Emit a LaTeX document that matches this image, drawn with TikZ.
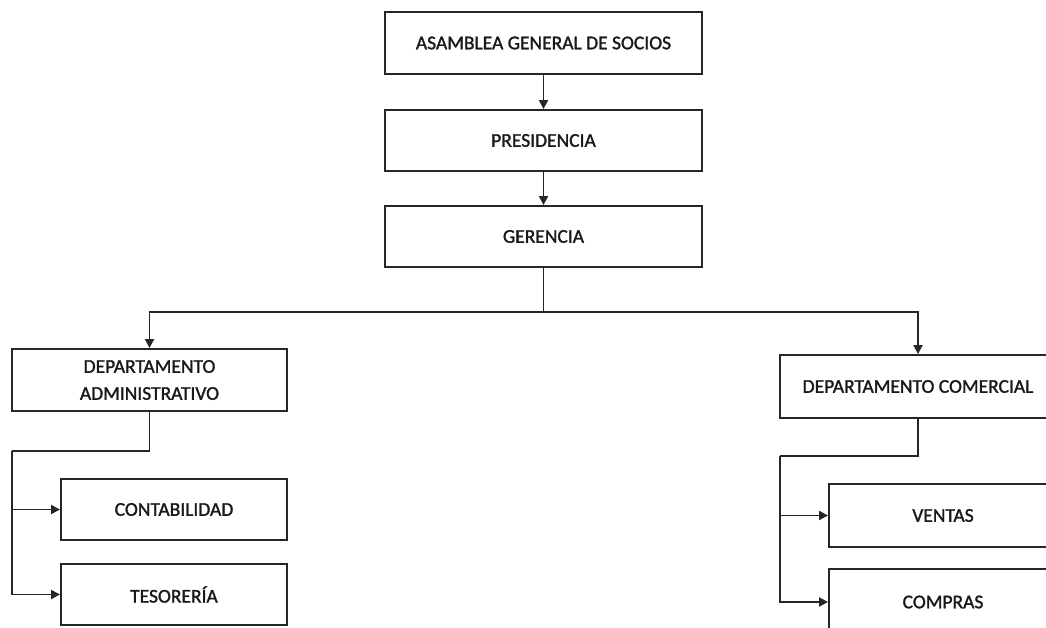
\documentclass[tikz,border=0pt]{standalone}
\usepackage{fontspec}
\setmainfont{Carlito}[FakeBold=1.4]
\usetikzlibrary{arrows.meta}
\begin{document}
\begin{tikzpicture}[x=1pt,y=-1pt,
  orgbox/.style={draw=black!85, line width=1.9pt, fill=white, rectangle, inner sep=0pt,
    align=center, font=\fontsize{19.5}{27}\selectfont, text=black!90},
  link/.style={draw=black!85, line width=1.9pt},
  arr/.style={link, -{Triangle[width=9pt,length=9pt]}}]
\useasboundingbox (0,0) rectangle (1046,628);
\clip (0,0) rectangle (1046,628);
\fill[white] (0,0) rectangle (1046,628);

\node[orgbox, minimum width=317pt, minimum height=62pt] (asamblea) at (543.5,43) {ASAMBLEA GENERAL DE SOCIOS};
\node[orgbox, minimum width=317pt, minimum height=61pt] (presidencia) at (543.5,140.5) {PRESIDENCIA};
\node[orgbox, minimum width=317pt, minimum height=61pt] (gerencia) at (543.5,236.5) {GERENCIA};

\node[orgbox, minimum width=275pt, minimum height=62pt] (admin) at (149.5,380) {DEPARTAMENTO\\ADMINISTRATIVO};
\node[orgbox, minimum width=226pt, minimum height=61pt] (contab) at (174,509.5) {CONTABILIDAD};
\node[orgbox, minimum width=226pt, minimum height=61pt] (tesor) at (174,594.5) {TESORERÍA};

\node[orgbox, minimum width=276pt, minimum height=63pt] (comercial) at (918,386.5) {DEPARTAMENTO COMERCIAL};
\node[orgbox, minimum width=228pt, minimum height=63pt] (ventas) at (943,515.5) {VENTAS};
\node[orgbox, minimum width=228pt, minimum height=66pt] (compras) at (943,602) {COMPRAS};

\coordinate (hub) at (543.5,312);
\coordinate (la) at (12,451);
\coordinate (ra) at (780,456);

\draw[arr] (asamblea.south) -- (presidencia.north);
\draw[arr] (presidencia.south) -- (gerencia.north);
\draw[link] (gerencia.south) -- (hub);
\draw[arr] (hub) -| (admin.north);
\draw[arr] (hub) -| (comercial.north);

\draw[link] (admin.south) |- (la);
\draw[arr] (la) |- (contab.west);
\draw[arr] (la) |- (tesor.west);

\draw[link] (comercial.south) |- (ra);
\draw[arr] (ra) |- (ventas.west);
\draw[arr] (ra) |- (compras.west);
\end{tikzpicture}
\end{document}
